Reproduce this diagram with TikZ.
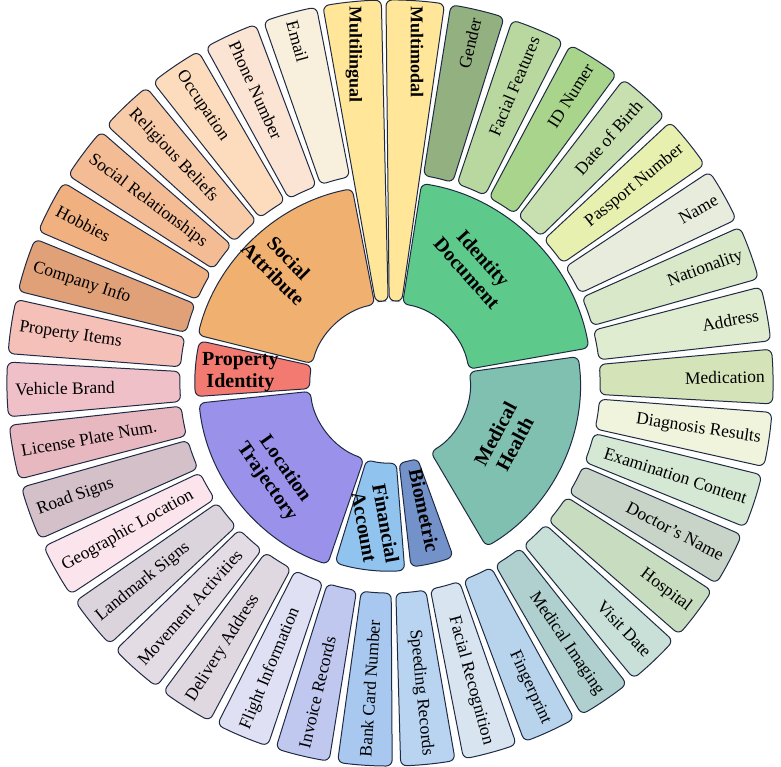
\documentclass[tikz,border=0pt]{standalone}
\usepackage{fontspec}
\setmainfont{Liberation Serif}
\definecolor{edge}{HTML}{1F2A44}
\newcommand\petal[6]{% name a1 a2 r1 r2 color
 \path[fill=#6,draw=edge,line width=1pt,rounded corners=6pt] (#2:#4) arc[start angle=#2,end angle=#3,radius=#4] -- (#3:#5) arc[start angle=#3,end angle=#2,radius=#5] -- cycle;}
\begin{document}
\begin{tikzpicture}[x=1pt,y=1pt,
  outlab/.style={font=\fontsize{17.5}{19}\selectfont,inner sep=0pt},
  inlab/.style={font=\fontsize{20}{22}\selectfont\bfseries,align=center,inner sep=0pt,text=black}]
\useasboundingbox (-390,-384) rectangle (391,383);
% outer petals
\foreach \i/\t/\c in {2/Gender/93B080,3/Facial Features/B8D8A0,4/ID Numer/A8D48C,5/Date of Birth/C8E0B0,6/Passport Number/E8F0B0,7/Name/E8ECDC,8/Nationality/D8E8C8,9/Address/E0ECD0,10/Medication/D4E4B8,11/Diagnosis Results/F0F4DC,12/Examination Content/D4E8D4,13/Doctor’s Name/C8D4C8,14/Hospital/C8DCC0,15/Visit Date/C8E0D8,16/Medical Imaging/B0D0D0,17/Fingerprint/B8D4EC,18/Facial Recognition/D8E4F0,19/Speeding Records/B8D4F0,20/Bank Card Number/A8C8F0,21/Invoice Records/C0C8F0,22/Flight Information/E0E0F4,23/Delivery Address/E0D8E0,24/Movement Activities/E4DCE4,25/Landmark Signs/DCD4DC,26/Geographic Location/FCE4EC,27/Road Signs/D4C0C8,28/License Plate Num./E8B8C0,29/Vehicle Brand/F0C0C8,30/Property Items/F4C0B8,31/Company Info/E0A078,32/Hobbies/F0B080,33/Social Relationships/F4BC94,34/Religious Beliefs/F8CCA8,35/Occupation/FCDCBC,36/Phone Number/FCE4D4,37/Email/F8F0DC}{
  \definecolor{pc}{HTML}{\c}
  \pgfmathsetmacro\a{95.7-9.4737*\i}
  \pgfmathsetmacro\aa{\a+4.1}
  \pgfmathsetmacro\ab{\a-4.1}
  \petal{P\i}{\aa}{\ab}{210}{383}{pc}
  \pgfmathparse{cos(\a)>=0?1:0}
  \ifnum\pgfmathresult=1
    \node[outlab,anchor=east,rotate=\a] (L\i) at (\a:375) {\t};
  \else
    \pgfmathsetmacro\r{\a+180}
    \node[outlab,anchor=west,rotate=\r] (L\i) at (\a:375) {\t};
  \fi
}
% long petals
\definecolor{yel}{HTML}{FFE699}
\petal{ML}{91.3}{100.1}{82}{383}{yel}
\petal{MM}{81.8}{90.6}{82}{383}{yel}
\node[inlab,font=\fontsize{18}{20}\selectfont\bfseries,rotate=-90,anchor=west] (tML) at (95.5:378) {Multilingual};
\node[inlab,font=\fontsize{18}{20}\selectfont\bfseries,rotate=-90,anchor=west] (tMM) at (85.9:378) {Multimodal};
% inner sectors
\definecolor{cSoc}{HTML}{F0B070}
\definecolor{cId}{HTML}{5DC98B}
\definecolor{cMed}{HTML}{80C0B0}
\definecolor{cProp}{HTML}{F27A70}
\definecolor{cLoc}{HTML}{9A92EA}
\definecolor{cFin}{HTML}{90C4EE}
\definecolor{cBio}{HTML}{7392CA}
\petal{SA}{101}{166}{80}{198}{cSoc}
\petal{ID}{10}{81}{80}{202}{cId}
\petal{MH}{-59.5}{8}{80}{190}{cMed}
\petal{PI}{167.5}{184}{80}{195}{cProp}
\petal{LT}{186}{251}{80}{192}{cLoc}
\petal{FA}{253}{274.5}{80}{188}{cFin}
\petal{BM}{276.5}{290}{80}{185}{cBio}
\node[inlab,rotate=-45] (tSA) at (133:160) {Social\\Attribute};
\node[inlab,rotate=-48] (tID) at (54:145) {Identity\\Document};
\node[inlab,rotate=62] (tMH) at (-26:128) {Medical\\Health};
\node[inlab,rotate=0] (tPI) at (176:150) {Property\\Identity};
\node[inlab,rotate=-55] (tLT) at (219:147) {Location\\Trajectory};
\node[inlab,rotate=-80] (tFA) at (264:143) {Financial\\Account};
\node[inlab,rotate=-78] (tBM) at (285:132) {Biometric};
\end{tikzpicture}
\end{document}
